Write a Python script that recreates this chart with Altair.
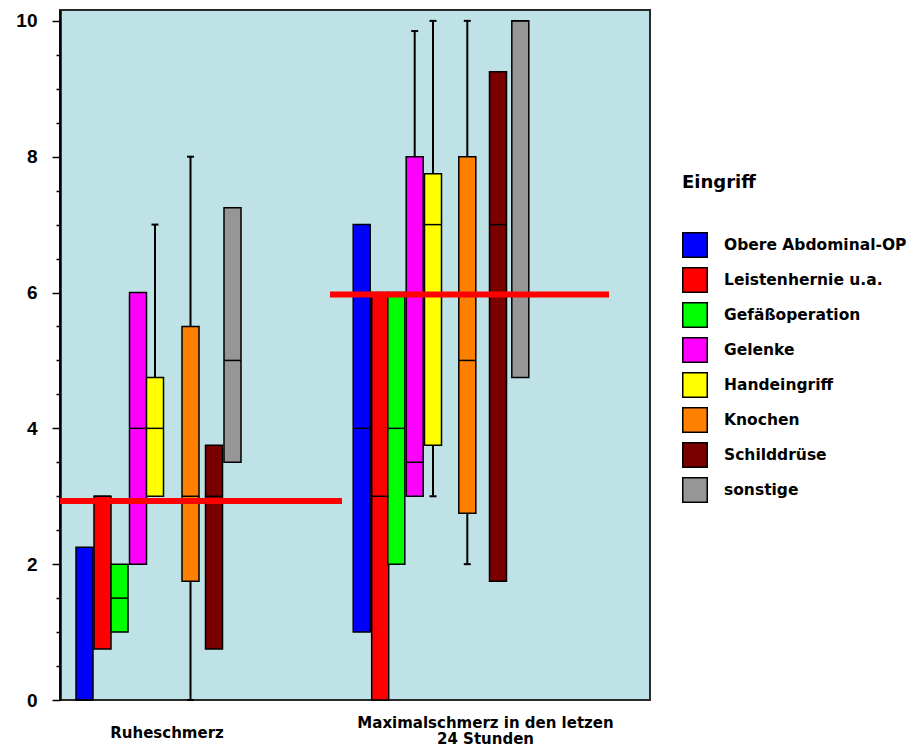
import altair as alt
import pandas as pd

# ---------------- data ----------------
categories = ["Obere Abdominal-OP", "Leistenhernie u.a.", "Gefäßoperation", "Gelenke",
              "Handeingriff", "Knochen", "Schilddrüse", "sonstige"]
colors = ["#0000ff", "#ff0000", "#00ff00", "#ff00ff", "#ffff00", "#ff8000", "#7a0000", "#969696"]
groups = ["Ruheschmerz", "Maximalschmerz in den letzen\n24 Stunden"]

# Ruheschmerz
rest_q1 = [0, 0.75, 1, 2, 3, 1.75, 0.75, 3.5]
rest_med = [0, 3, 1.5, 4, 4, 3, 3, 5]
rest_q3 = [2.25, 3, 2, 6, 4.75, 5.5, 3.75, 7.25]
rest_lo = [0, 0.75, 1, 2, 3, 0, 0.75, 3.5]
rest_hi = [2.25, 3, 2, 6, 7, 8, 3.75, 7.25]

# Maximalschmerz in den letzen 24 Stunden
max_q1 = [1, 0, 2, 3, 3.75, 2.75, 1.75, 4.75]
max_med = [4, 3, 4, 3.5, 7, 5, 7, 10]
max_q3 = [7, 6, 6, 8, 7.75, 8, 9.25, 10]
max_lo = [1, 0, 2, 3, 3, 2, 1.75, 4.75]
max_hi = [7, 6, 6, 9.85, 10, 10, 9.25, 10]

# group reference values (red lines)
group_means = [2.93, 5.97]

# ---------------- layout constants ----------------
rest_pos = [24.5, 42.5, 59.5, 78, 95, 130.5, 154, 172.5]
max_pos = [301.7, 320.2, 336.3, 354.7, 373, 407.3, 438, 460.3]
mean_start = [0, 270]
mean_end = [282, 549]
label_pos = [106.5, 425]
BOX_HALF = 8.5
CAP_HALF = 3.5
PLOT_W, PLOT_H = 590, 690

rows = []
for g, pos, q1, med, q3, lo, hi in [
    (groups[0], rest_pos, rest_q1, rest_med, rest_q3, rest_lo, rest_hi),
    (groups[1], max_pos, max_q1, max_med, max_q3, max_lo, max_hi),
]:
    for i, c in enumerate(categories):
        rows.append(dict(group=g, category=c, pos=pos[i], q1=q1[i], med=med[i],
                         q3=q3[i], lo=lo[i], hi=hi[i]))
df = pd.DataFrame(rows)
ref = pd.DataFrame(dict(group=groups, mean=group_means, xs=mean_start, xe=mean_end))

# ---------------- scales / axes ----------------
xscale = alt.Scale(domain=[0, PLOT_W], nice=False, zero=False)
yscale = alt.Scale(domain=[0, 10.16], nice=False, zero=False)

lines_l = groups[0].split("\n")
lines_r = groups[1].split("\n")
def js_arr(lines):
    return "[" + ", ".join("'" + s + "'" for s in lines) + "]"
x_label_expr = f"datum.value < 250 ? {js_arr(lines_l)} : {js_arr(lines_r)}"

xaxis = alt.Axis(values=label_pos, labelExpr=x_label_expr, ticks=False, tickSize=0,
                 domain=False, grid=False, labelFont="DejaVu Sans", labelFontWeight="bold",
                 labelFontSize=15, labelColor="black",
                 labelPadding={"condition": {"test": "datum.value > 250", "value": 22}, "value": 32},
                 labelBaseline="middle",
                 labelLineHeight=16, labelFlush=False, labelOverlap=False, labelAngle=0,
                 labelLimit=500, title=None)
yaxis = alt.Axis(values=[i * 0.5 for i in range(21)],
                 labelExpr="datum.value % 2 == 0 ? format(datum.value, 'd') : ''",
                 tickSize={"condition": {"test": "datum.value % 2 == 0", "value": 8}, "value": 4},
                 tickColor="black", tickWidth=1.5, domainColor="black", domainWidth=2.5,
                 labelFont="Liberation Sans", labelFontWeight="bold", labelFontSize=19,
                 labelColor="black", labelPadding=15, grid=False, title=None,
                 labelOverlap=False)

def X(field):
    return alt.X(f"{field}:Q", scale=xscale, axis=xaxis)

def Y(field):
    return alt.Y(f"{field}:Q", scale=yscale, axis=yaxis)

base = alt.Chart(df).transform_calculate(
    xl=f"datum.pos - {BOX_HALF}", xr=f"datum.pos + {BOX_HALF}",
    cl=f"datum.pos - {CAP_HALF}", cr=f"datum.pos + {CAP_HALF}",
)

whisk_up = base.transform_filter("datum.hi > datum.q3").mark_rule(color="black", strokeWidth=2).encode(
    x=X("pos"), y=Y("q3"), y2="hi:Q")
whisk_lo = base.transform_filter("datum.lo < datum.q1").mark_rule(color="black", strokeWidth=2).encode(
    x=X("pos"), y=Y("lo"), y2="q1:Q")
cap_up = base.transform_filter("datum.hi > datum.q3").mark_rule(color="black", strokeWidth=2).encode(
    x=X("cl"), x2="cr:Q", y=Y("hi"))
cap_lo = base.transform_filter("datum.lo < datum.q1").mark_rule(color="black", strokeWidth=2).encode(
    x=X("cl"), x2="cr:Q", y=Y("lo"))

boxes = base.mark_rect(stroke="black", strokeWidth=1.5).encode(
    x=X("xl"), x2="xr:Q", y=Y("q3"), y2="q1:Q",
    fill=alt.Fill("category:N", scale=alt.Scale(domain=categories, range=colors),
                  sort=categories,
                  legend=alt.Legend(title="Eingriff", orient="none", legendX=622, legendY=164,
                                    titleFont="DejaVu Sans", titleFontSize=18,
                                    titleFontWeight="bold", titleColor="black", titlePadding=40,
                                    labelFont="DejaVu Sans", labelFontSize=15.5,
                                    labelFontWeight="bold", labelColor="black", labelOffset=16,
                                    symbolType="square", symbolSize=600,
                                    symbolStrokeColor="black", symbolStrokeWidth=1.5,
                                    symbolOpacity=1, rowPadding=3, padding=0, labelLimit=400)),
)
medians = base.mark_rule(color="black", strokeWidth=1.5).encode(
    x=X("xl"), x2="xr:Q", y=Y("med"))

ref_lines = alt.Chart(ref).mark_rule(color="#ff0000", strokeWidth=6).encode(
    x=X("xs"), x2="xe:Q", y=Y("mean"))

chart = alt.layer(whisk_up, whisk_lo, cap_up, cap_lo, boxes, medians, ref_lines).properties(
    width=PLOT_W, height=PLOT_H,
    padding={"left": 52, "top": 2, "right": 259, "bottom": 46},
    autosize=alt.AutoSizeParams(type="none"),
    background="white",
).configure_view(fill="#bee2e5", stroke="#2a2a2a", strokeWidth=2)

chart.save("out.html", embed_options={"renderer": "svg", "actions": False})
